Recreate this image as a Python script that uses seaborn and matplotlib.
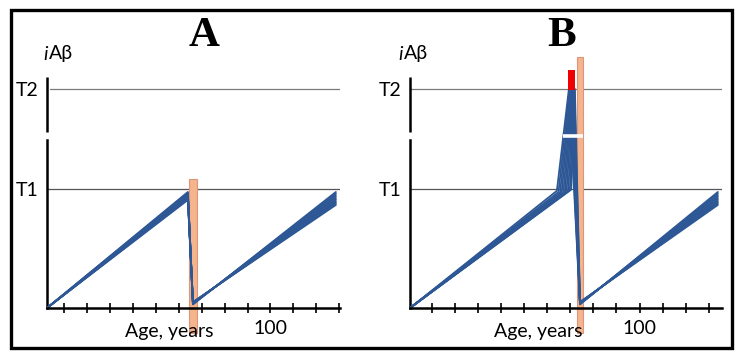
import numpy as np
import pandas as pd
import matplotlib
matplotlib.use("Agg")
import matplotlib.pyplot as plt
from matplotlib.patches import Rectangle
import seaborn as sns

# ---------------- data ----------------
T1, T2 = 1.0, 1.84
threshold_labels = ["T1", "T2"]
age_ticks = [10, 20, 30, 40, 50, 60, 70, 80, 90, 100, 110, 120, 130]
age_tick_labels = ["", "", "", "", "", "", "", "", "", "100", "", "", ""]

# Panel A: each line = start -> peak -> trough -> end
A_start_age, A_peak_age, A_trough_age, A_end_age = 2.6, 64.0, 66.2, 128.5
A_peak = [0.975, 0.968, 0.961, 0.952, 0.946, 0.938, 0.930, 0.924, 0.915, 0.908]
A_trough = [0.030, 0.033, 0.036, 0.038, 0.040, 0.042, 0.044, 0.046, 0.048, 0.050]
A_end = [0.975, 0.962, 0.949, 0.936, 0.923, 0.911, 0.899, 0.888, 0.877, 0.866]
A_bar = [64.5, 68.0, -0.21, 1.084]  # x0, x1, y0, y1

# Panel B: start -> kink (T1) -> peak (T2) -> trough -> end
B_start_age, B_trough_age, B_end_age = 0.6, 74.2, 133.9
B_kink_age = [64.2, 64.9, 65.6, 66.3, 67.0, 67.7, 68.4, 69.1, 69.8, 70.4]
B_kink = [0.985, 0.975, 0.970, 0.972, 0.968, 0.975, 0.980, 0.985, 0.990, 0.995]
B_peak_age = [69.4, 69.7, 70.0, 70.3, 70.6, 70.9, 71.2, 71.5, 71.8, 72.0]
B_peak = [1.84, 1.84, 1.83, 1.84, 1.83, 1.84, 1.84, 1.83, 1.84, 1.84]
B_trough = [0.030, 0.033, 0.036, 0.038, 0.040, 0.042, 0.044, 0.046, 0.048, 0.050]
B_end = [0.975, 0.962, 0.949, 0.936, 0.923, 0.911, 0.899, 0.888, 0.877, 0.866]
B_bar = [72.9, 75.5, -0.21, 2.11]
B_red = [69.0, 72.0, 1.83, 2.0]

# ---------------- tidy tables ----------------
rows = []
for i in range(len(A_peak)):
    for a, v in [(A_start_age, 0.0), (A_peak_age, A_peak[i]),
                 (A_trough_age, A_trough[i]), (A_end_age, A_end[i])]:
        rows.append(("A", i, a, v))
for i in range(len(B_peak)):
    for a, v in [(B_start_age, 0.0), (B_kink_age[i], B_kink[i]),
                 (B_peak_age[i], B_peak[i]), (B_trough_age, B_trough[i]),
                 (B_end_age, B_end[i])]:
        rows.append(("B", i, a, v))
df = pd.DataFrame(rows, columns=["panel", "line", "age", "level"])

# ---------------- style ----------------
sns.set_style("white")
plt.rcParams["font.family"] = ["Lato", "DejaVu Sans"]
plt.rcParams["text.color"] = "black"
plt.rcParams["xtick.labelcolor"] = "black"
plt.rcParams["ytick.labelcolor"] = "black"

W, H = 741, 358
fig = plt.figure(figsize=(W / 100, H / 100), dpi=100)


def box(l, r, t, b):
    return [l / W, 1 - b / H, (r - l) / W, (b - t) / H]


ylo, yhi = -0.25, 2.15
pix_axis, pix_unit = 308, 119
ptop = pix_axis - yhi * pix_unit
pbot = pix_axis - ylo * pix_unit

axA = fig.add_axes(box(47, 340, ptop, pbot))
axB = fig.add_axes(box(410, 722, ptop, pbot))

blue = "#2E5895"
bar_fc, bar_ec = "#F5B48C", "#D9967A"
fs = 14

panels = [
    (axA, "A", (A_start_age, 130.3), A_bar, 204),
    (axB, "B", (B_start_age, 135.7), B_bar, 562),
]

for ax, name, xl, bar, letter_x in panels:
    ax.set_xlim(*xl)
    ax.set_ylim(ylo, yhi)
    ax.set_facecolor("none")
    # thresholds
    ax.axhline(T1, color="#555555", lw=0.9, zorder=1)
    ax.axhline(T2, color="#7a7a7a", lw=0.9, zorder=1,
               xmin=(0.011 if name == "A" else 0))
    # treatment bar
    ax.bar((bar[0] + bar[1]) / 2, bar[3] - bar[2], width=bar[1] - bar[0],
           bottom=bar[2], color=bar_fc, edgecolor=bar_ec, lw=0.8,
           clip_on=False, zorder=2)
    # lines
    sub = df[df.panel == name]
    sns.lineplot(data=sub, x="age", y="level", units="line", estimator=None,
                 sort=False, color=blue, lw=1.3, ax=ax, zorder=3, legend=False)
    # spines
    for s in ["top", "right"]:
        ax.spines[s].set_visible(False)
    ax.spines["bottom"].set_position(("data", 0))
    ax.spines["bottom"].set_linewidth(1.8)
    ax.spines["bottom"].set_color("black")
    ax.spines["left"].set_linewidth(1.8)
    ax.spines["left"].set_color("black")
    ax.spines["left"].set_bounds(0, 1.41)
    ax.plot([xl[0], xl[0]], [1.48, 1.94], color="black", lw=1.8,
            clip_on=False, solid_capstyle="butt", zorder=5)
    ax.spines["bottom"].set_zorder(4)
    # ticks
    ax.set_xticks(age_ticks, age_tick_labels)
    ax.tick_params(axis="x", bottom=True, direction="inout", length=7,
                   width=1.2, labelsize=fs, pad=5, color="black")
    ax.set_yticks([T1, T2], threshold_labels)
    ax.tick_params(axis="y", left=False, length=0, labelsize=fs, pad=6)
    ax.set_xlabel("")
    ax.set_ylabel("")
    ax.annotate("Age, years", xy=(56, 0), xytext=(0, -17),
                textcoords="offset points", ha="center", va="center",
                fontsize=fs, annotation_clip=False)
    # panel letter
    fig.text(letter_x / W, 1 - 36 / H, name, ha="center", va="center",
             fontsize=31, fontweight="bold", family="Liberation Serif")

# red block in panel B
axB.bar((B_red[0] + B_red[1]) / 2, B_red[3] - B_red[2],
        width=B_red[1] - B_red[0], bottom=B_red[2], color="#EE0000",
        lw=0, zorder=4)
# axis break crossing the spike in panel B
axB.plot([66.9, 75.5], [1.445, 1.445], color="white", lw=2.6, zorder=6,
         solid_capstyle="butt")

# y-axis label iAβ
for xi in (43, 398):
    fig.text(xi / W, 1 - 54 / H, "i", ha="left", va="center",
             fontsize=fs, style="italic")
    fig.text((xi + 5.5) / W, 1 - 54 / H, "Aβ", ha="left", va="center",
             fontsize=fs)

# outer frame
fig.add_artist(Rectangle((11 / W, 1 - 348 / H), (732 - 11) / W, (348 - 10) / H,
                         transform=fig.transFigure, fill=False,
                         lw=2.4, ec="black"))

fig.savefig("out.png", dpi=100)
